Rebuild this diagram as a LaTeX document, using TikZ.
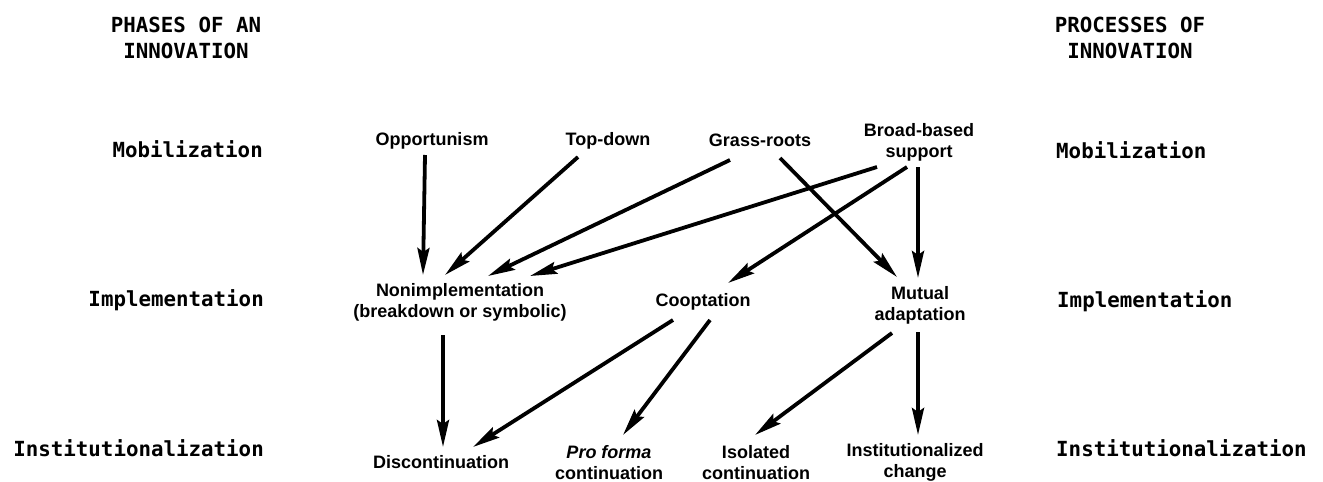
\documentclass[tikz,border=0pt]{standalone}
\usepackage{fontspec}
\setmainfont{Liberation Sans}
\newfontfamily\labfont{DejaVu Sans Mono}
\usetikzlibrary{arrows.meta}
\tikzset{
  phase/.style={inner sep=0pt, font=\labfont\bfseries\fontsize{20.8}{26}\selectfont},
  head/.style={phase, align=center, anchor=north},
  item/.style={inner sep=0pt, align=center, font=\bfseries\fontsize{18}{21}\selectfont},
  arr/.style={line width=3.8pt, -{Stealth[length=27pt,width=12pt,inset=4pt]}}
}
\begin{document}
\begin{tikzpicture}[x=1pt,y=-1pt]
\useasboundingbox[fill=white] (0,0) rectangle (1323,482);
% headers
\node[head] (hl) at (186,17) {PHASES OF AN\\INNOVATION};
\node[head] (hr) at (1130,17) {PROCESSES OF\\INNOVATION};
% left phase labels
\node[phase, anchor=base east] (lmob) at (263,157) {Mobilization};
\node[phase, anchor=base east] (limp) at (264,306) {Implementation};
\node[phase, anchor=base east] (lins) at (264,456) {Institutionalization};
% right phase labels
\node[phase, anchor=base west] (rmob) at (1056,158) {Mobilization};
\node[phase, anchor=base west] (rimp) at (1057,307) {Implementation};
\node[phase, anchor=base west] (rins) at (1056,456) {Institutionalization};
% items
\node[item] (opp) at (432,141) {Opportunism};
\node[item] (td) at (608,141) {Top-down};
\node[item] (gr) at (760,140) {Grass-roots};
\node[item] (bb) at (919,142) {Broad-based\\support};
\node[item] (non) at (460,302) {Nonimplementation\\(breakdown or symbolic)};
\node[item] (coop) at (703,302) {Cooptation};
\node[item] (mut) at (920,305) {Mutual\\adaptation};
\node[item] (disc) at (441,462) {Discontinuation};
\node[item] (pf) at (609,463) {\textit{Pro forma}\\continuation};
\node[item] (iso) at (756,463) {Isolated\\continuation};
\node[item] (inst) at (915,462) {Institutionalized\\change};
% connectors
\draw[arr] ([shift={(-7,14)}]opp.center) -- ([shift={(-37,-27)}]non.center);
\draw[arr] ([shift={(-30,16)}]td.center) -- ([shift={(-15,-27)}]non.center);
\draw[arr] ([shift={(-30,20)}]gr.center) -- ([shift={(28,-26)}]non.center);
\draw[arr] ([shift={(-42,25)}]bb.center) -- ([shift={(70,-26)}]non.center);
\draw[arr] ([shift={(20,18)}]gr.center) -- ([shift={(-23,-28)}]mut.center);
\draw[arr] ([shift={(-12,25)}]bb.center) -- ([shift={(25,-19)}]coop.center);
\draw[arr] ([shift={(-1,25)}]bb.center) -- ([shift={(-2,-27)}]mut.center);
\draw[arr] ([shift={(-17,33)}]non.center) -- ([shift={(2,-15)}]disc.center);
\draw[arr] ([shift={(-30,18)}]coop.center) -- ([shift={(32,-15)}]disc.center);
\draw[arr] ([shift={(7,18)}]coop.center) -- ([shift={(14,-28)}]pf.center);
\draw[arr] ([shift={(-28,28)}]mut.center) -- ([shift={(-1,-28)}]iso.center);
\draw[arr] ([shift={(-2,27)}]mut.center) -- ([shift={(3,-27)}]inst.center);
\end{tikzpicture}
\end{document}
